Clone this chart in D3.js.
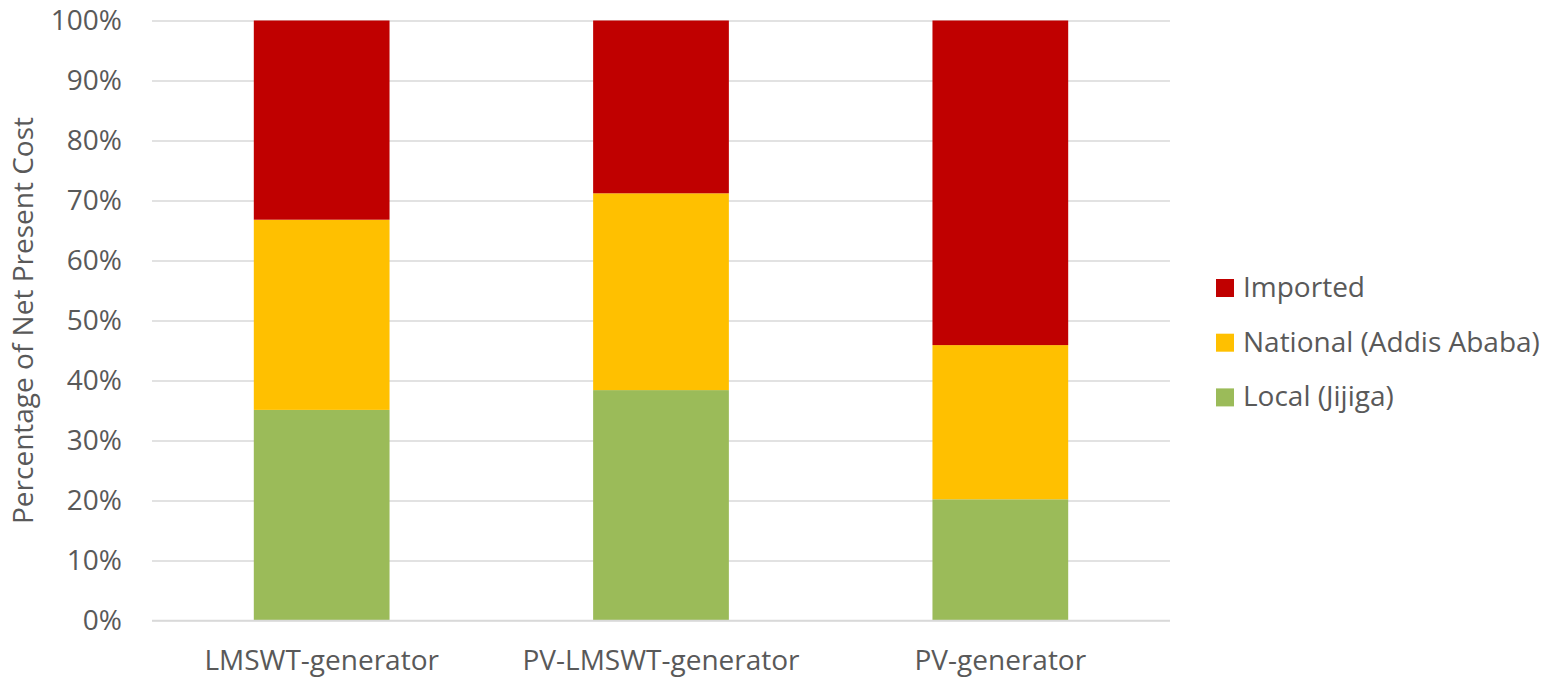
<!DOCTYPE html>
<html>
<head>
<meta charset="utf-8">
<script src="https://cdn.jsdelivr.net/npm/d3@7"></script>
<style>
  html, body { margin: 0; padding: 0; background: #fff; }
  svg { display: block; font-family: "Open Sans", "Liberation Sans", sans-serif; }
</style>
</head>
<body>
<svg id="chart" width="1551" height="677"></svg>
<script>
// Share of net present cost by origin of components, per system configuration
const categories = ["LMSWT-generator", "PV-LMSWT-generator", "PV-generator"];
const seriesNames = ["Local (Jijiga)", "National (Addis Ababa)", "Imported"];
const localShare    = [35.1, 38.4, 20.2];
const nationalShare = [31.7, 32.8, 25.7];
const importedShare = [33.2, 28.8, 54.1];
const seriesColors = ["#9bbb59", "#ffc000", "#c00000"];
const yTicks = [0, 10, 20, 30, 40, 50, 60, 70, 80, 90, 100];
const yTitle = "Percentage of Net Present Cost";

const FONT_SIZE = 28;
const TEXT_COLOR = "#595959";

const rows = categories.map((c, i) => ({
  category: c,
  "Local (Jijiga)": localShare[i],
  "National (Addis Ababa)": nationalShare[i],
  "Imported": importedShare[i]
}));

const svg = d3.select("#chart");
const plot = { left: 152, right: 1170, top: 20.5, bottom: 620.5 };

const x = d3.scaleBand()
  .domain(categories)
  .range([plot.left, plot.right])
  .paddingInner(0.6)
  .paddingOuter(0.3);

const y = d3.scaleLinear().domain([0, 100]).range([plot.bottom, plot.top]);

const color = d3.scaleOrdinal().domain(seriesNames).range(seriesColors);

// Gridlines and value axis
const yAxis = d3.axisLeft(y)
  .tickValues(yTicks)
  .tickFormat(d => d + "%")
  .tickSize(-(plot.right - plot.left))
  .tickPadding(30);

const gy = svg.append("g")
  .attr("transform", `translate(${plot.left},0)`)
  .call(yAxis);
gy.select(".domain").remove();
gy.selectAll(".tick line").attr("stroke", "#d9d9d9").attr("stroke-width", 1.3);
gy.selectAll(".tick text")
  .attr("fill", TEXT_COLOR)
  .attr("font-size", FONT_SIZE)
  .attr("font-family", "'Open Sans', sans-serif");

// Stacked bars
const stack = d3.stack().keys(seriesNames);
const layers = stack(rows);

svg.append("g")
  .selectAll("g")
  .data(layers)
  .join("g")
  .attr("fill", d => color(d.key))
  .selectAll("rect")
  .data(d => d)
  .join("rect")
  .attr("x", d => x(d.data.category))
  .attr("width", x.bandwidth())
  .attr("y", d => y(d[1]))
  .attr("height", d => y(d[0]) - y(d[1]));

// Category axis
const xAxis = d3.axisBottom(x).tickSize(0).tickPadding(30);
const gx = svg.append("g")
  .attr("transform", `translate(0,${plot.bottom})`)
  .call(xAxis);
gx.select(".domain").attr("stroke", "#d9d9d9").attr("stroke-width", 1.3)
  .attr("d", `M${plot.left},0H${plot.right}`);
gx.selectAll(".tick text")
  .attr("fill", TEXT_COLOR)
  .attr("font-size", FONT_SIZE)
  .attr("font-family", "'Open Sans', sans-serif");

// Axis title
svg.append("text")
  .attr("transform", `translate(33,${(plot.top + plot.bottom) / 2}) rotate(-90)`)
  .attr("text-anchor", "middle")
  .attr("fill", TEXT_COLOR)
  .attr("font-size", FONT_SIZE)
  .text(yTitle);

// Legend (top to bottom: Imported, National, Local)
const legendItems = seriesNames.slice().reverse();
const legend = svg.append("g").attr("transform", "translate(1216,288)");
const li = legend.selectAll("g")
  .data(legendItems)
  .join("g")
  .attr("transform", (d, i) => `translate(0,${i * 54.7})`);
li.append("rect")
  .attr("x", 0).attr("y", -9)
  .attr("width", 18).attr("height", 18)
  .attr("fill", d => color(d));
li.append("text")
  .attr("x", 27).attr("y", 0)
  .attr("dy", "0.32em")
  .attr("fill", TEXT_COLOR)
  .attr("font-size", FONT_SIZE)
  .text(d => d);
</script>
</body>
</html>
